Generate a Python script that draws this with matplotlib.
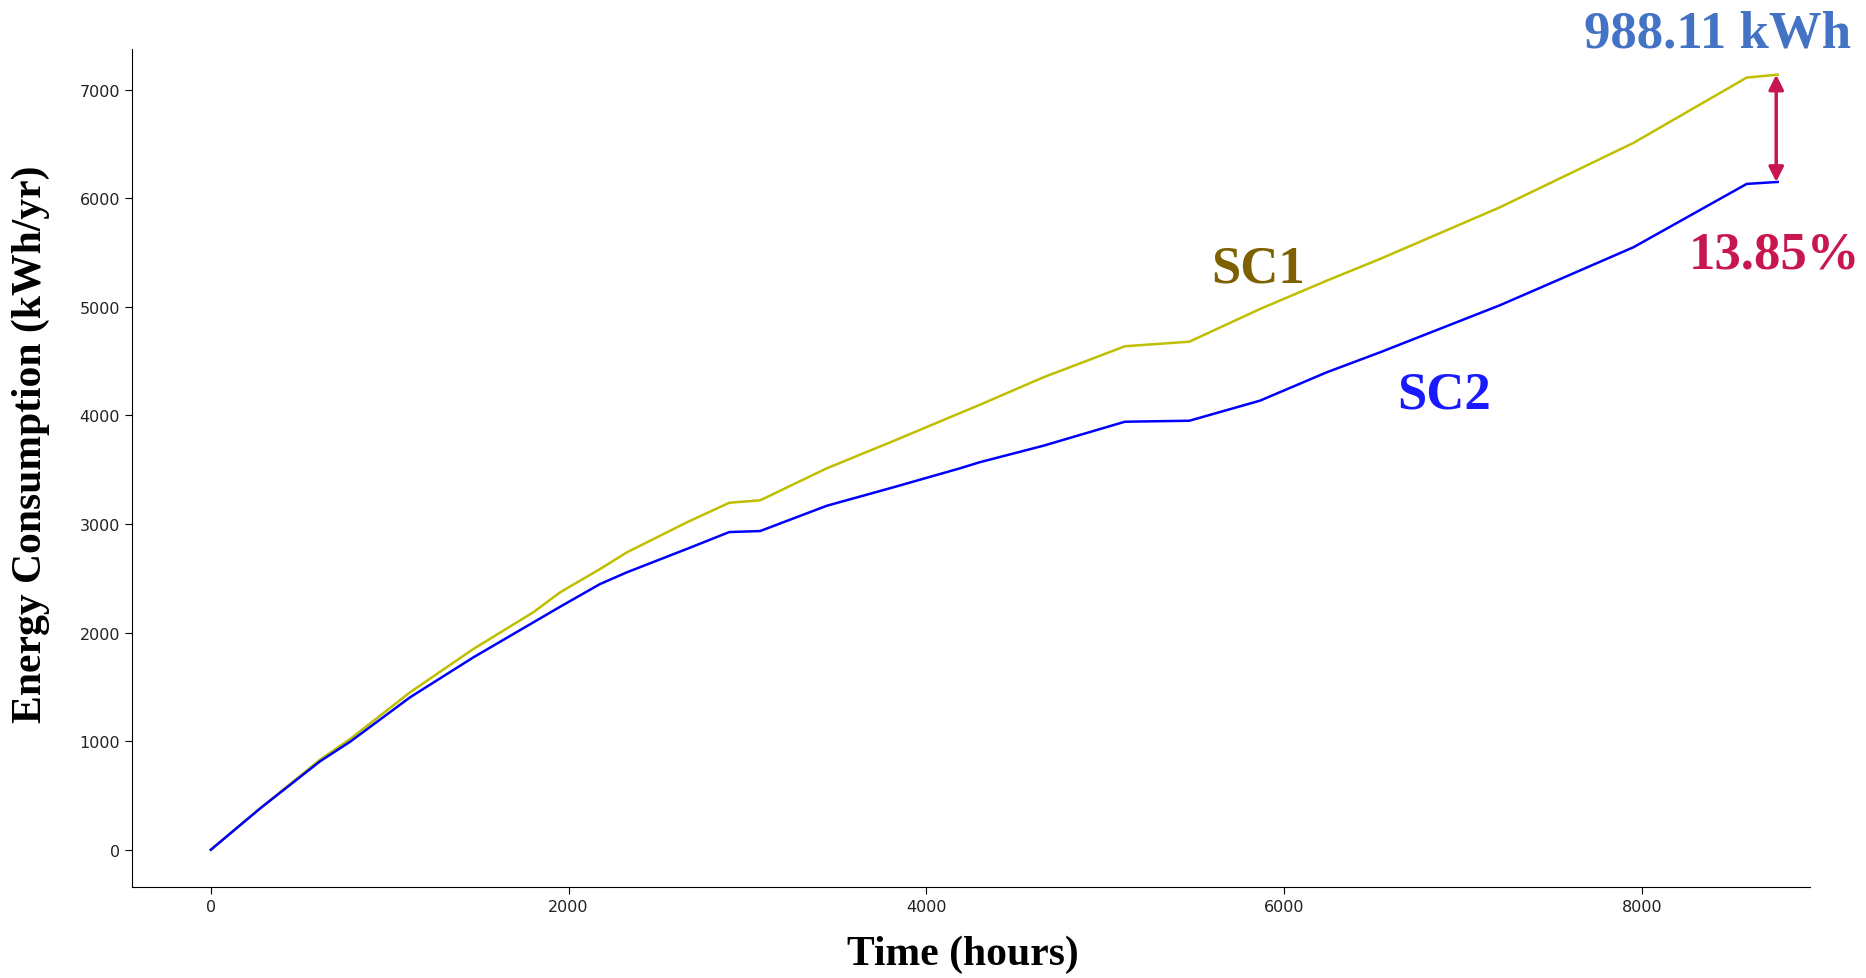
import matplotlib
matplotlib.use("Agg")
import matplotlib.pyplot as plt

# cumulative energy use
hours = [0, 276, 611, 779, 1114, 1468, 1803, 1953, 2176, 2326, 2661, 2899, 3071,
         3444, 3816, 4189, 4297, 4655, 5111, 5471, 5866, 6239, 6537, 7208, 7953,
         8587, 8760]
sc1 = [0, 381, 830, 1020, 1450, 1849, 2187, 2371, 2585, 2739, 3015, 3196, 3218,
       3513, 3764, 4022, 4096, 4351, 4637, 4679, 4980, 5241, 5441, 5917, 6509,
       7111, 7138]
sc2 = [0, 381, 815, 995, 1404, 1772, 2094, 2238, 2447, 2555, 2770, 2926, 2935,
       3168, 3338, 3513, 3568, 3721, 3942, 3951, 4136, 4397, 4581, 5015, 5548,
       6132, 6150]

diff_label = "988.11 kWh"
pct_label = "13.85%"

serif = "Liberation Serif"

fig = plt.figure(figsize=(18.66, 9.79), dpi=100)
ax = fig.add_axes([0.0706, 0.0926, 0.8994, 0.8564])

ax.plot(hours, sc1, color="#BFBF00", lw=1.8)
ax.plot(hours, sc2, color="#0000FF", lw=1.8)

ax.set_xlim(-442, 8941)
ax.set_ylim(-346, 7375)
ax.set_xticks([0, 2000, 4000, 6000, 8000])
ax.set_yticks([0, 1000, 2000, 3000, 4000, 5000, 6000, 7000])
ax.tick_params(labelsize=11.5, labelcolor="#222222", length=5)

ax.spines["top"].set_visible(False)
ax.spines["right"].set_visible(False)

ax.set_xlabel("Time (hours)", fontsize=30, fontweight="bold", family=serif)
ax.set_ylabel("Energy Consumption (kWh/yr)", fontsize=30, fontweight="bold", family=serif)
ax.xaxis.set_label_coords(0.495, -0.056)
ax.yaxis.set_label_coords(-0.049, 0.53)

# scenario labels
ax.text(5855, 5357, "SC1", color="#7F6000", fontsize=38, fontweight="bold",
        family=serif, ha="center", va="center")
ax.text(6895, 4197, "SC2", color="#1A1AFF", fontsize=38, fontweight="bold",
        family=serif, ha="center", va="center")

# difference arrow at year end
ax.annotate("", xy=(8752, sc1[-1]), xytext=(8752, sc2[-1]),
            arrowprops=dict(arrowstyle="<|-|>", color="#C8174F", lw=2.5,
                            mutation_scale=22, shrinkA=0, shrinkB=0))
ax.text(8421, 7520, diff_label, color="#4472C4", fontsize=38, fontweight="bold",
        family=serif, ha="center", va="center")
ax.text(8745, 5478, pct_label, color="#C8174F", fontsize=38, fontweight="bold",
        family=serif, ha="center", va="center")

fig.savefig("out.png", dpi=100)
